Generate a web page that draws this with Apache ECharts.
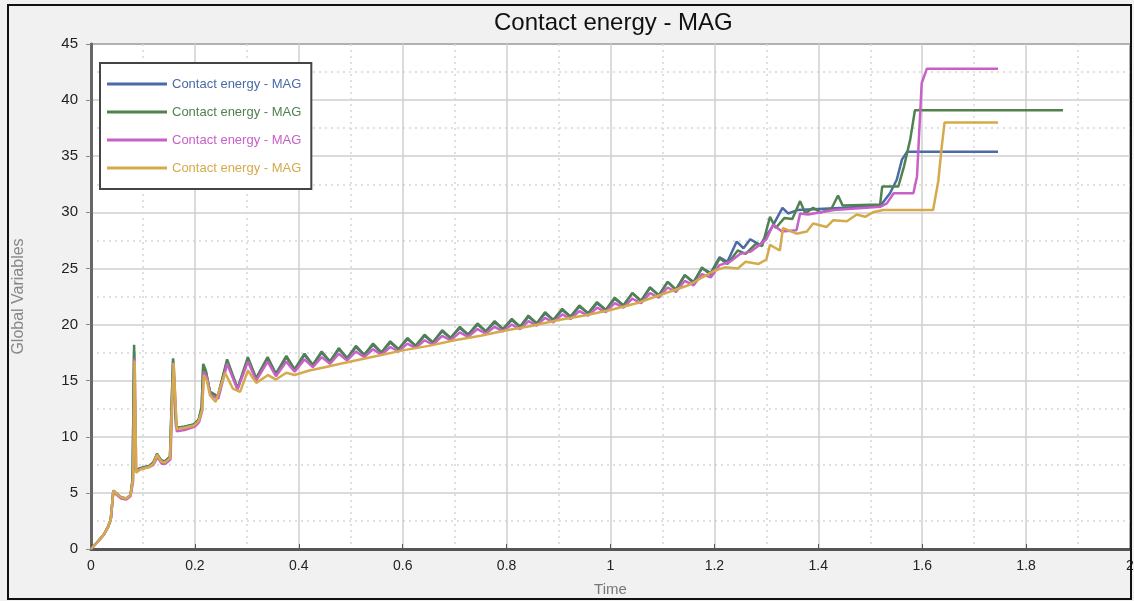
<!DOCTYPE html>
<html>
<head>
<meta charset="utf-8">
<script src="https://cdn.jsdelivr.net/npm/echarts@6/dist/echarts.min.js"></script>
<style>
html,body{margin:0;padding:0;background:#fff;}
#chart{width:1134px;height:601px;}
</style>
</head>
<body>
<div id="chart"></div>
<script>
// ---- data (x = Time, y = Global Variables) ----
const seriesNames = ['Contact energy - MAG', 'Contact energy - MAG', 'Contact energy - MAG', 'Contact energy - MAG'];
const seriesColors = ['#4a6aa8', '#4f824f', '#c860c8', '#d4aa4c'];
const xTickLabels = ['0', '0.2', '0.4', '0.6', '0.8', '1', '1.2', '1.4', '1.6', '1.8', '2'];
const yTickLabels = ['0', '5', '10', '15', '20', '25', '30', '35', '40', '45'];

const blueData = [
  [0,0],[0.012,0.6],[0.025,1.3],[0.033,2.0],[0.038,2.6],[0.043,5.2],[0.05,4.9],[0.058,4.6],[0.068,4.5],[0.076,4.8],[0.08,6.1],
  [0.083,17.6],[0.086,7.0],[0.095,7.2],[0.112,7.4],[0.12,7.7],[0.127,8.4],[0.135,7.9],[0.142,7.8],[0.152,8.2],
  [0.158,16.8],[0.164,10.8],[0.18,10.9],[0.198,11.1],[0.207,11.5],[0.213,12.6],[0.216,16.3],[0.221,15.8],[0.229,14.0],[0.244,13.6],
  [0.262,16.7],[0.282,14.3],[0.302,16.9],[0.318,15.2],[0.340,17.0],[0.356,15.6],[0.376,17.1],[0.392,16.0],[0.411,17.3],[0.427,16.4],
  [0.444,17.5],[0.460,16.7],[0.477,17.8],[0.493,17.0],[0.510,18.0],[0.526,17.3],[0.543,18.2],[0.559,17.5],[0.576,18.4],[0.592,17.8],
  [0.609,18.7],[0.625,18.1],[0.642,19.0],[0.658,18.4],[0.676,19.4],[0.692,18.8],[0.710,19.7],[0.726,19.1],[0.744,20.0],[0.760,19.4],
  [0.777,20.2],[0.793,19.6],[0.810,20.4],[0.826,19.8],[0.842,20.7],[0.858,20.1],[0.874,21.0],[0.890,20.4],[0.907,21.3],[0.923,20.7],
  [0.940,21.6],[0.957,21.0],[0.974,21.9],[0.991,21.3],[1.008,22.3],[1.025,21.7],[1.042,22.8],[1.059,22.1],[1.076,23.3],[1.093,22.6],
  [1.110,23.8],[1.126,23.1],[1.143,24.4],[1.160,23.8],[1.176,25.0],[1.193,24.6],[1.210,26.0],[1.225,25.6],[1.243,27.4],[1.256,26.8],
  [1.269,27.6],[1.288,27.1],[1.310,28.6],[1.331,30.4],[1.342,29.9],[1.360,30.2],[1.450,30.4],[1.520,30.6],[1.538,31.7],[1.551,32.9],
  [1.561,34.7],[1.571,35.4],[1.746,35.4]
];

const greenData = [
  [0,0],[0.012,0.6],[0.025,1.3],[0.033,2.0],[0.038,2.6],[0.043,5.2],[0.05,4.9],[0.058,4.6],[0.068,4.5],[0.076,4.8],[0.08,6.2],
  [0.083,18.2],[0.086,7.0],[0.095,7.2],[0.112,7.4],[0.12,7.7],[0.127,8.5],[0.135,7.9],[0.142,7.8],[0.152,8.2],
  [0.158,17.0],[0.164,10.8],[0.18,10.9],[0.198,11.1],[0.207,11.5],[0.213,12.6],[0.216,16.5],[0.221,15.9],[0.229,14.0],[0.244,13.6],
  [0.262,16.9],[0.282,14.3],[0.302,17.1],[0.318,15.2],[0.340,17.1],[0.356,15.6],[0.376,17.2],[0.392,16.0],[0.411,17.4],[0.427,16.4],
  [0.444,17.6],[0.460,16.7],[0.477,17.9],[0.493,17.0],[0.510,18.1],[0.526,17.3],[0.543,18.3],[0.559,17.5],[0.576,18.5],[0.592,17.8],
  [0.609,18.8],[0.625,18.1],[0.642,19.1],[0.658,18.4],[0.676,19.5],[0.692,18.8],[0.710,19.8],[0.726,19.1],[0.744,20.1],[0.760,19.4],
  [0.777,20.3],[0.793,19.6],[0.810,20.5],[0.826,19.8],[0.842,20.8],[0.858,20.1],[0.874,21.1],[0.890,20.4],[0.907,21.4],[0.923,20.7],
  [0.940,21.7],[0.957,21.0],[0.974,22.0],[0.991,21.3],[1.008,22.4],[1.025,21.7],[1.042,22.8],[1.059,22.1],[1.076,23.3],[1.093,22.6],
  [1.110,23.8],[1.126,23.1],[1.143,24.4],[1.160,23.7],[1.176,25.1],[1.193,24.4],[1.210,25.9],[1.225,25.4],[1.245,26.6],[1.260,26.3],
  [1.280,27.2],[1.292,27.0],[1.307,29.6],[1.318,28.6],[1.335,29.5],[1.350,29.4],[1.365,31.0],[1.375,29.9],[1.390,30.4],[1.405,30.0],
  [1.425,30.3],[1.438,31.5],[1.447,30.6],[1.519,30.7],[1.523,32.3],[1.554,32.3],[1.565,34.1],[1.577,36.5],[1.586,39.1],[1.871,39.1]
];

const pinkData = [
  [0,0],[0.012,0.6],[0.025,1.3],[0.033,2.0],[0.038,2.6],[0.043,5.1],[0.05,4.8],[0.058,4.5],[0.068,4.4],[0.076,4.7],[0.081,6.0],
  [0.084,17.0],[0.087,6.9],[0.095,7.1],[0.112,7.3],[0.12,7.5],[0.128,8.2],[0.136,7.6],[0.143,7.6],[0.153,8.0],
  [0.159,16.6],[0.165,10.5],[0.18,10.6],[0.2,10.9],[0.208,11.3],[0.214,12.3],[0.217,15.8],[0.223,15.3],[0.23,13.7],[0.245,13.4],
  [0.262,16.5],[0.282,14.2],[0.302,16.7],[0.318,15.0],[0.340,16.7],[0.356,15.4],[0.376,16.7],[0.392,15.8],[0.411,16.9],[0.427,16.2],
  [0.444,17.1],[0.460,16.5],[0.477,17.4],[0.493,16.8],[0.510,17.6],[0.526,17.1],[0.543,17.8],[0.559,17.3],[0.576,18.0],[0.592,17.6],
  [0.609,18.3],[0.625,17.9],[0.642,18.6],[0.658,18.2],[0.676,19.0],[0.692,18.6],[0.710,19.3],[0.726,18.9],[0.744,19.6],[0.760,19.2],
  [0.777,19.8],[0.793,19.4],[0.810,20.0],[0.826,19.6],[0.842,20.3],[0.858,19.9],[0.874,20.6],[0.890,20.2],[0.907,20.9],[0.923,20.5],
  [0.940,21.2],[0.957,20.8],[0.974,21.5],[0.991,21.1],[1.008,21.9],[1.025,21.5],[1.042,22.3],[1.059,21.9],[1.076,22.8],[1.093,22.4],
  [1.110,23.3],[1.126,22.9],[1.143,23.9],[1.160,23.5],[1.176,24.5],[1.193,24.2],[1.210,25.3],[1.230,25.6],[1.250,26.3],[1.270,26.5],
  [1.290,27.2],[1.300,27.6],[1.313,28.9],[1.330,28.3],[1.358,28.4],[1.365,29.9],[1.380,29.8],[1.430,30.2],[1.520,30.5],[1.532,30.8],
  [1.545,31.7],[1.583,31.7],[1.590,33.2],[1.599,41.5],[1.609,42.8],[1.746,42.8]
];

const yellowData = [
  [0,0],[0.012,0.6],[0.025,1.3],[0.033,2.0],[0.038,2.6],[0.043,5.2],[0.05,4.9],[0.058,4.6],[0.068,4.5],[0.076,4.8],[0.081,6.3],
  [0.084,16.8],[0.087,6.8],[0.095,7.1],[0.112,7.3],[0.12,7.6],[0.127,8.4],[0.135,7.8],[0.142,7.7],[0.152,8.1],
  [0.159,16.6],[0.165,10.7],[0.18,10.8],[0.198,11.0],[0.207,11.4],[0.214,12.4],[0.217,15.5],[0.223,15.0],[0.229,13.7],[0.24,13.1],
  [0.258,15.7],[0.273,14.3],[0.287,14.0],[0.302,15.9],[0.318,14.8],[0.341,15.5],[0.356,15.1],[0.376,15.7],[0.392,15.5],[0.420,15.9],
  [0.450,16.2],[0.500,16.7],[0.550,17.2],[0.600,17.7],[0.650,18.1],[0.700,18.6],[0.750,19.0],[0.800,19.5],[0.850,19.9],[0.900,20.4],
  [0.950,20.8],[1.000,21.3],[1.050,21.9],[1.100,22.7],[1.150,23.5],[1.200,24.8],[1.220,25.1],[1.245,25.0],[1.260,25.6],[1.285,25.4],
  [1.300,25.8],[1.307,27.1],[1.326,26.6],[1.332,28.6],[1.358,28.1],[1.378,28.3],[1.390,29.0],[1.416,28.7],[1.429,29.3],[1.455,29.2],
  [1.474,29.8],[1.490,29.6],[1.505,30.0],[1.525,30.2],[1.621,30.2],[1.631,32.8],[1.638,36.0],[1.643,38.0],[1.746,38.0]
];

const allData = [blueData, greenData, pinkData, yellowData];

// ---- chart ----
const chart = echarts.init(document.getElementById('chart'));
const FONT = '"Liberation Sans", Arial, sans-serif';

const series = allData.map((d, i) => ({
  name: seriesNames[i] + ' #' + (i + 1),
  type: 'line',
  data: d,
  showSymbol: false,
  symbol: 'none',
  smooth: false,
  lineStyle: { color: seriesColors[i], width: 2.5 },
  itemStyle: { color: seriesColors[i] },
  z: 3 + i
}));

chart.setOption({
  animation: false,
  backgroundColor: '#f1f1f1',
  title: {
    text: 'Contact energy - MAG',
    left: 489,
    top: 6,
    textStyle: { fontFamily: FONT, fontSize: 24, fontWeight: 'normal', color: '#111' }
  },
  graphic: [{
    type: 'rect',
    shape: { x: 8, y: 5, width: 1123, height: 594 },
    style: { fill: 'none', stroke: '#111', lineWidth: 2 },
    silent: true,
    z: 100
  }],
  legend: {
    left: 100,
    top: 63,
    orient: 'vertical',
    backgroundColor: '#fff',
    borderColor: '#444',
    borderWidth: 2,
    borderRadius: 0,
    padding: [14, 10, 14, 7],
    itemWidth: 60,
    itemHeight: 3,
    itemGap: 14,
    icon: 'rect',
    formatter: function () { return 'Contact energy - MAG'; },
    data: series.map((s, i) => ({ name: s.name, textStyle: { color: seriesColors[i] } })),
    textStyle: { fontFamily: FONT, fontSize: 13, lineHeight: 14 }
  },
  grid: {
    left: 91, right: 4, top: 44, bottom: 52,
    outerBoundsMode: 'none',
    containLabel: false,
    show: true, backgroundColor: '#fff', borderColor: '#555', borderWidth: 2
  },
  xAxis: {
    type: 'value',
    min: 0, max: 2, interval: 0.2,
    name: 'Time',
    nameLocation: 'middle',
    nameGap: 33,
    nameTextStyle: { fontFamily: FONT, fontSize: 15, color: '#777' },
    axisLine: { show: true, lineStyle: { color: '#555', width: 3 } },
    axisTick: { show: true, inside: true, length: 5, lineStyle: { color: '#555' } },
    axisLabel: {
      fontFamily: FONT, fontSize: 14, color: '#222', margin: 10,
      formatter: function (v) { return xTickLabels[Math.round(v / 0.2)]; }
    },
    splitLine: { show: true, lineStyle: { color: '#cfcfcf', width: 1.5 } },
    minorTick: { show: false, splitNumber: 2 },
    minorSplitLine: { show: true, lineStyle: { color: '#d6d6d6', width: 1.5, type: [2, 4] } }
  },
  yAxis: {
    type: 'value',
    min: 0, max: 45, interval: 5,
    name: 'Global Variables',
    nameLocation: 'middle',
    nameGap: 64,
    nameRotate: 90,
    nameTextStyle: { fontFamily: FONT, fontSize: 16, color: '#888' },
    axisLine: { show: true, lineStyle: { color: '#666', width: 3 } },
    axisTick: { show: true, inside: false, length: 5, lineStyle: { color: '#888' } },
    axisLabel: {
      fontFamily: FONT, fontSize: 15, color: '#222', margin: 13,
      formatter: function (v) { return yTickLabels[Math.round(v / 5)]; }
    },
    splitLine: { show: true, lineStyle: { color: '#cfcfcf', width: 1.5 } },
    minorTick: { show: false, splitNumber: 2 },
    minorSplitLine: { show: true, lineStyle: { color: '#d6d6d6', width: 1.5, type: [2, 4] } }
  },
  series: series
});
</script>
</body>
</html>
